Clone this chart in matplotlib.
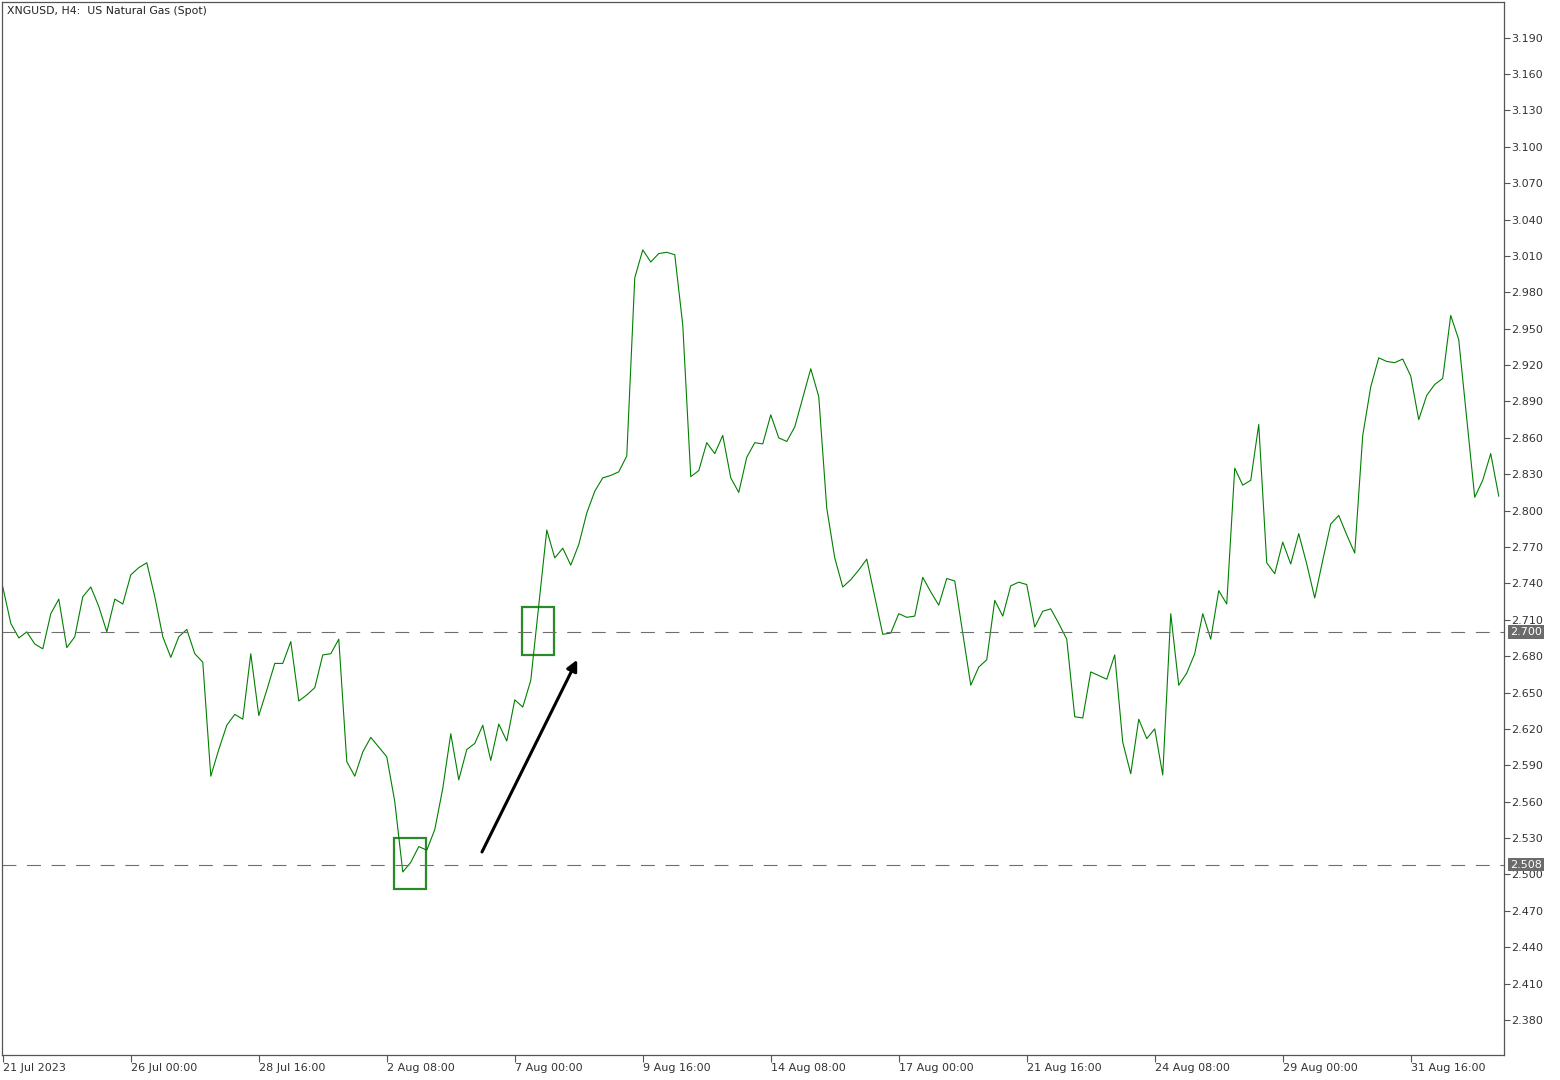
import numpy as np
import matplotlib
matplotlib.use('Agg')
import matplotlib.pyplot as plt
from matplotlib.patches import Rectangle
from matplotlib.transforms import blended_transform_factory

# H4 closes, one value per bar
prices = [
    2.737, 2.707, 2.695, 2.700, 2.690, 2.686, 2.715, 2.727, 2.687, 2.696,
    2.729, 2.737, 2.721, 2.700, 2.727, 2.723, 2.747, 2.753, 2.757, 2.729,
    2.696, 2.679, 2.696, 2.702, 2.682, 2.675, 2.581, 2.603, 2.623, 2.632,
    2.628, 2.682, 2.631, 2.652, 2.674, 2.674, 2.692, 2.643, 2.648, 2.654,
    2.681, 2.682, 2.694, 2.593, 2.581, 2.601, 2.613, 2.605, 2.597, 2.560,
    2.502, 2.510, 2.523, 2.520, 2.537, 2.571, 2.616, 2.578, 2.603, 2.608,
    2.623, 2.594, 2.624, 2.610, 2.644, 2.638, 2.660, 2.722, 2.784, 2.761,
    2.769, 2.755, 2.772, 2.798, 2.816, 2.827, 2.829, 2.832, 2.845, 2.992,
    3.015, 3.005, 3.012, 3.013, 3.011, 2.953, 2.828, 2.833, 2.856, 2.847,
    2.862, 2.827, 2.815, 2.844, 2.856, 2.855, 2.879, 2.860, 2.857, 2.869,
    2.893, 2.917, 2.894, 2.802, 2.761, 2.737, 2.743, 2.751, 2.760, 2.729,
    2.698, 2.699, 2.715, 2.712, 2.713, 2.745, 2.733, 2.722, 2.744, 2.742,
    2.699, 2.656, 2.671, 2.677, 2.726, 2.713, 2.738, 2.741, 2.739, 2.704,
    2.717, 2.719, 2.707, 2.694, 2.630, 2.629, 2.667, 2.664, 2.661, 2.681,
    2.609, 2.583, 2.628, 2.612, 2.620, 2.582, 2.715, 2.656, 2.666, 2.682,
    2.715, 2.694, 2.734, 2.723, 2.835, 2.821, 2.825, 2.871, 2.757, 2.748,
    2.774, 2.756, 2.781, 2.756, 2.728, 2.759, 2.789, 2.796, 2.780, 2.765,
    2.862, 2.902, 2.926, 2.923, 2.922, 2.925, 2.911, 2.875, 2.895, 2.904,
    2.909, 2.961, 2.941, 2.876, 2.811, 2.825, 2.847, 2.812,
]

time_labels = ['21 Jul 2023', '26 Jul 00:00', '28 Jul 16:00', '2 Aug 08:00',
               '7 Aug 00:00', '9 Aug 16:00', '14 Aug 08:00', '17 Aug 00:00',
               '21 Aug 16:00', '24 Aug 08:00', '29 Aug 00:00', '31 Aug 16:00']
bars_per_label = 16

price_ticks = np.arange(2.380, 3.1901, 0.030)
levels = [2.700, 2.508]

# boxes: (first bar, last bar, low, high), arrow: (bar, price) -> (bar, price)
boxes = [(48.9, 52.9, 2.488, 2.530), (64.9, 68.9, 2.681, 2.7206)]
arrow_from = (59.9, 2.5185)
arrow_to = (71.8, 2.677)

W, H = 1560, 1080
fig = plt.figure(figsize=(W / 100, H / 100), dpi=100)
fig.patch.set_facecolor('white')
ax = fig.add_axes([2 / W, 25 / H, 1502 / W, 1053 / H])

x = np.arange(len(prices))
ax.plot(x, prices, color='#008000', lw=0.8)

for lv in levels:
    ax.axhline(lv, color='#6e6e6e', lw=0.8, linestyle=(0, (12.5, 9.6)))

for b0, b1, lo, hi in boxes:
    ax.add_patch(Rectangle((b0, lo), b1 - b0, hi - lo, fill=False,
                           edgecolor='#2a8a2a', lw=1.6))

ax.annotate('', xy=arrow_to, xytext=arrow_from,
            arrowprops=dict(arrowstyle='-|>', color='black', lw=2.2,
                            mutation_scale=16, shrinkA=0, shrinkB=0))

ax.set_xlim(-0.1, 187.66)
ax.set_ylim(2.3511, 3.2194)

spine_col = '#555555'
for s in ax.spines.values():
    s.set_color(spine_col)
    s.set_linewidth(0.9)

ax.yaxis.tick_right()
ax.set_yticks(price_ticks)
ax.set_yticklabels([f'{v:.3f}' for v in price_ticks])
ax.tick_params(axis='y', direction='out', length=4, width=0.8, pad=1,
               colors=spine_col, labelcolor='#333333', labelsize=8)

ticks = np.arange(len(time_labels)) * bars_per_label
ax.set_xticks(ticks)
ax.set_xticklabels(time_labels, ha='left')
ax.tick_params(axis='x', direction='out', length=5, width=0.8, pad=1,
               colors=spine_col, labelcolor='#333333', labelsize=8)

# level tags on the price scale
tr = blended_transform_factory(ax.transAxes, ax.transData)
for lv in levels:
    ax.text(1 + 6 / 1502, lv, f'{lv:.3f}', transform=tr, ha='left', va='center',
            color='white', fontsize=8,
            bbox=dict(facecolor='#6b6b6b', edgecolor='none', pad=1.2))

fig.text(7 / W, 1 - 11 / H, 'XNGUSD, H4:  US Natural Gas (Spot)',
         ha='left', va='center', fontsize=7.8, color='#222222')

fig.savefig('out.png', dpi=100, facecolor='white')
